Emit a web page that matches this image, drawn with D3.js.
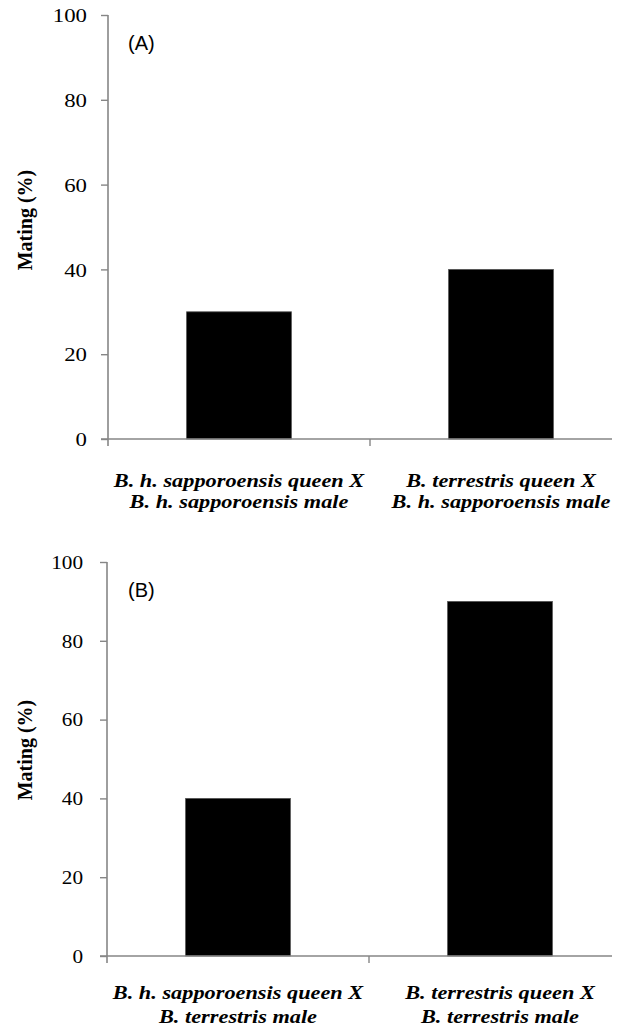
<!DOCTYPE html>
<html>
<head>
<meta charset="utf-8">
<script src="https://cdn.jsdelivr.net/npm/d3@7"></script>
<style>
  body { margin: 0; background: #fff; }
  svg { display: block; }
</style>
</head>
<body>
<script>
// Data.
const panelLabels = ['(A)', '(B)'];
const categoriesA = [
  ['B. h. sapporoensis queen X', 'B. h. sapporoensis male'],
  ['B. terrestris  queen X', 'B. h. sapporoensis male']
];
const categoriesB = [
  ['B. h. sapporoensis queen X', 'B. terrestris  male'],
  ['B. terrestris  queen X', 'B. terrestris  male']
];
const matingA = [30, 40];
const matingB = [40, 90];
const yTicks = [0, 20, 40, 60, 80, 100];
const yTitle = 'Mating (%)';

const width = 620;
const height = 1025;

const svg = d3.select('body')
  .append('svg')
  .attr('width', width)
  .attr('height', height);

const axisColor = '#868686';
const serif = '"Liberation Serif", "Times New Roman", serif';

// One panel of the figure.
function drawPanel(opts)
{
  const g = svg.append('g');

  const x = d3.scaleBand()
    .domain(d3.range(opts.values.length))
    .range([opts.left, opts.left + 524])
    .paddingInner(0.6)
    .paddingOuter(0.3);

  const y = d3.scaleLinear()
    .domain([0, 100])
    .range([opts.bottom, opts.top]);

  // Bars.
  g.selectAll('rect.bar')
    .data(opts.values)
    .enter()
    .append('rect')
    .attr('class', 'bar')
    .attr('x', (d, i) => x(i))
    .attr('width', x.bandwidth())
    .attr('y', (d) => y(d))
    .attr('height', (d) => y(0) - y(d))
    .attr('fill', '#000')
    .attr('stroke', '#555')
    .attr('stroke-width', 0.8);

  // Y axis.
  const yAxis = d3.axisLeft(y)
    .tickValues(yTicks)
    .tickSize(7)
    .tickSizeOuter(0);

  const ya = g.append('g')
    .attr('transform', 'translate(' + opts.left + ',0)')
    .call(yAxis);
  ya.select('.domain').remove();
  ya.append('line')
    .attr('y1', y(100))
    .attr('y2', y(0) + 7)
    .attr('stroke', axisColor)
    .attr('stroke-width', 1.6);
  ya.selectAll('.tick line')
    .attr('stroke', axisColor)
    .attr('stroke-width', 1.4);
  ya.selectAll('.tick text')
    .attr('x', 0)
    .attr('dy', '0.35em')
    .attr('transform', 'translate(' + (-opts.tickGap) + ',0) scale(' + opts.stretch + ',1)')
    .attr('fill', '#000')
    .style('font-family', serif)
    .style('font-size', opts.tickFont + 'px');

  // X axis: a line with ticks between the categories.
  g.append('line')
    .attr('x1', opts.left - 7)
    .attr('x2', 612)
    .attr('y1', y(0))
    .attr('y2', y(0))
    .attr('stroke', axisColor)
    .attr('stroke-width', 1.6);

  const bounds = d3.range(opts.values.length + 1)
    .map((i) => x.range()[0] + i * x.step());
  g.selectAll('line.xtick')
    .data(bounds.slice(1))
    .enter()
    .append('line')
    .attr('class', 'xtick')
    .attr('x1', (d) => d)
    .attr('x2', (d) => d)
    .attr('y1', y(0))
    .attr('y2', y(0) + 7)
    .attr('stroke', axisColor)
    .attr('stroke-width', 1.4);

  // Category labels, two lines each.
  opts.categories.forEach((lines, i) =>
  {
    const cx = x(i) + x.bandwidth() / 2;
    lines.forEach((line, j) =>
    {
      g.append('text')
        .attr('text-anchor', 'middle')
        .attr('transform', 'translate(' + cx + ',' + (y(0) + opts.labelOffset + j * opts.lineGap) + ') scale(1.24,1)')
        .style('font-family', serif)
        .style('font-weight', 'bold')
        .style('font-style', 'italic')
        .style('font-size', '18px')
        .text(line);
    });
  });

  // Panel letter.
  g.append('text')
    .attr('x', 128)
    .attr('y', opts.top + 35)
    .style('font-family', '"Liberation Sans", Arial, sans-serif')
    .style('font-size', '20px')
    .text(opts.label);

  // Y title.
  g.append('text')
    .attr('text-anchor', 'middle')
    .attr('transform', 'translate(32,' + opts.titleY + ') rotate(-90)')
    .style('font-family', serif)
    .style('font-weight', 'bold')
    .style('font-size', '20px')
    .text(yTitle);
}

drawPanel({
  values: matingA,
  categories: categoriesA,
  label: panelLabels[0],
  left: 108,
  top: 15,
  bottom: 439,
  tickGap: 21,
  tickFont: 19,
  stretch: 1.2,
  labelOffset: 48,
  lineGap: 21,
  titleY: 220
});

drawPanel({
  values: matingB,
  categories: categoriesB,
  label: panelLabels[1],
  left: 107,
  top: 562,
  bottom: 956,
  tickGap: 24,
  tickFont: 18,
  stretch: 1.18,
  labelOffset: 43,
  lineGap: 24,
  titleY: 750
});
</script>
</body>
</html>
